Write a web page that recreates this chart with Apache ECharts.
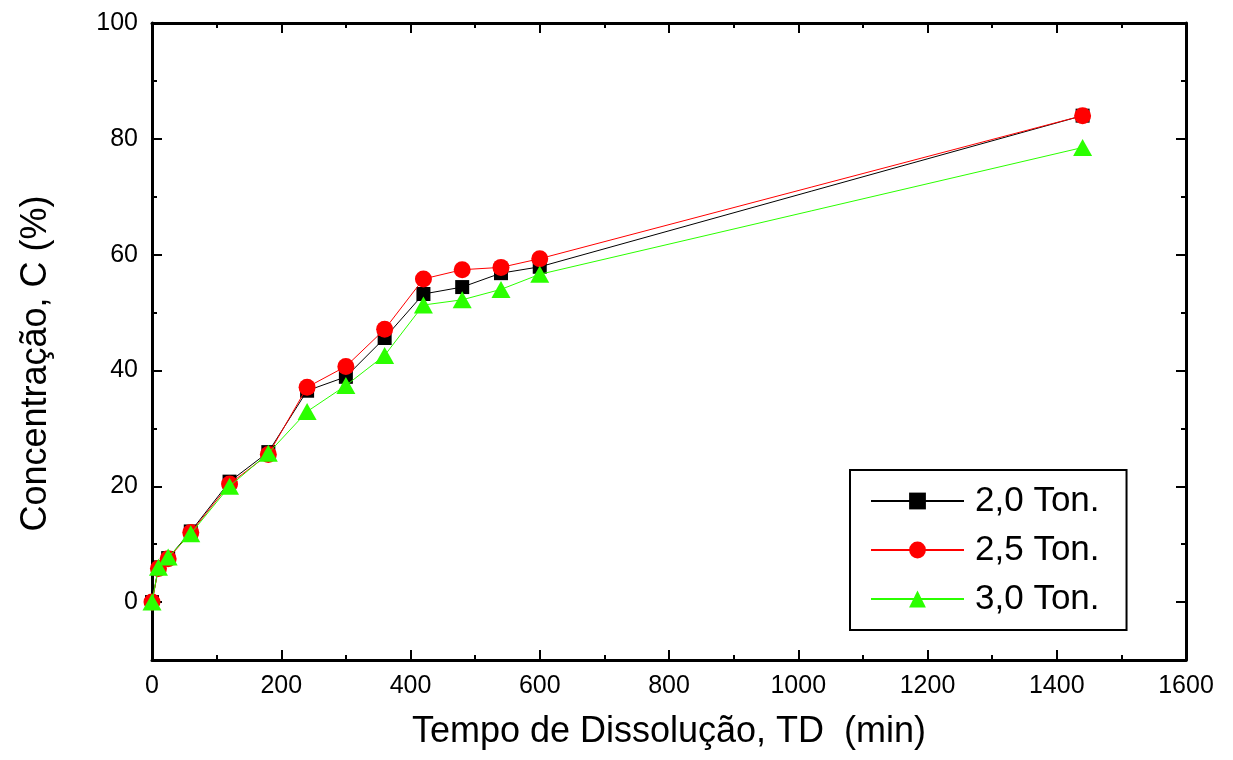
<!DOCTYPE html>
<html>
<head>
<meta charset="utf-8">
<script src="https://cdn.jsdelivr.net/npm/echarts@6/dist/echarts.min.js"></script>
<style>
html,body{margin:0;padding:0;background:#fff;}
#chart{width:1233px;height:760px;}
</style>
</head>
<body>
<div id="chart"></div>
<script>
// Data
var time = [0, 10, 25, 60, 120, 180, 240, 300, 360, 420, 480, 540, 600, 1440];
var c20 = [0, 6.0, 7.6, 12.2, 20.8, 25.9, 36.5, 38.9, 45.6, 53.2, 54.4, 56.8, 57.9, 84.0];
var c25 = [0, 5.8, 7.5, 12.0, 20.4, 25.5, 37.1, 40.7, 47.1, 55.8, 57.4, 57.8, 59.3, 84.0];
var c30 = [0, 6.0, 7.8, 11.8, 20.0, 25.7, 32.9, 37.4, 42.6, 51.3, 52.2, 54.0, 56.6, 78.5];
var seriesNames = ['2,0 Ton.', '2,5 Ton.', '3,0 Ton.'];
var yMajorTicks = [0, 20, 40, 60, 80, 100];

var FONT = 'Liberation Sans';

function pairs(xs, ys) {
  return xs.map(function (x, i) { return [x, ys[i]]; });
}

var axisLineStyle = { show: true, onZero: false, lineStyle: { color: '#000', width: 3 } };

function plain(v) { return String(v); }

function xAxisDef(pos, showLabels) {
  return {
    type: 'value', position: pos, min: 0, max: 1600, interval: 200,
    axisLine: axisLineStyle,
    axisTick: { show: true, inside: true, length: 10, lineStyle: { color: '#000', width: 2 } },
    minorTick: { show: true, splitNumber: 2, length: 5, lineStyle: { color: '#000', width: 2 } },
    splitLine: { show: false }, minorSplitLine: { show: false },
    axisLabel: { show: showLabels, formatter: plain, color: '#000', fontSize: 25, fontFamily: FONT, margin: 14 },
    name: showLabels ? 'Tempo de Dissolução, TD  (min)' : '',
    nameLocation: 'middle', nameGap: 54,
    nameTextStyle: { color: '#000', fontSize: 36, fontFamily: FONT }
  };
}

function yMinorAxis(pos) {
  return {
    type: 'value', position: pos, min: -10, max: 100, interval: 10,
    axisLine: axisLineStyle,
    axisTick: { show: true, inside: true, length: 5, lineStyle: { color: '#000', width: 2 } },
    axisLabel: { show: false },
    splitLine: { show: false }
  };
}

function yMajorAxis(pos, showLabels) {
  return {
    type: 'value', position: pos, min: -10, max: 100, interval: 10,
    axisLine: { show: false, onZero: false },
    axisTick: { show: true, inside: true, length: 10, customValues: yMajorTicks, lineStyle: { color: '#000', width: 2 } },
    axisLabel: { show: showLabels, customValues: yMajorTicks, formatter: plain, color: '#000', fontSize: 25, fontFamily: FONT, margin: 14 },
    splitLine: { show: false },
    name: showLabels ? 'Concentração, C (%)' : '',
    nameLocation: 'middle', nameGap: 98,
    nameTextStyle: { color: '#000', fontSize: 36, fontFamily: FONT, padding: [0, 44, 0, 0] }
  };
}

var chart = echarts.init(document.getElementById('chart'), null, { renderer: 'canvas' });
chart.setOption({
  animation: false,
  backgroundColor: '#fff',
  grid: { left: 152, right: 47, top: 23, bottom: 100, containLabel: false },
  xAxis: [xAxisDef('bottom', true), xAxisDef('top', false)],
  yAxis: [yMinorAxis('left'), yMajorAxis('left', true), yMinorAxis('right'), yMajorAxis('right', false)],
  legend: {
    orient: 'vertical', left: 850, top: 470,
    backgroundColor: '#fff',
    borderColor: '#000', borderWidth: 2, borderRadius: 0,
    padding: [10, 27, 10, 20],
    itemGap: 7, itemWidth: 93, itemHeight: 21,
    textStyle: { color: '#000', fontSize: 35, fontFamily: FONT, lineHeight: 42, padding: [0, 0, 0, 6] },
    data: seriesNames
  },
  series: [
    {
      name: seriesNames[0], type: 'line', xAxisIndex: 0, yAxisIndex: 0,
      data: pairs(time, c20), symbol: 'rect', symbolSize: 14,
      lineStyle: { color: '#000', width: 1 }, itemStyle: { color: '#000' }, z: 2
    },
    {
      name: seriesNames[1], type: 'line', xAxisIndex: 0, yAxisIndex: 0,
      data: pairs(time, c25), symbol: 'circle', symbolSize: 17,
      lineStyle: { color: '#ff0000', width: 1 }, itemStyle: { color: '#ff0000' }, z: 3
    },
    {
      name: seriesNames[2], type: 'line', xAxisIndex: 0, yAxisIndex: 0,
      data: pairs(time, c30), symbol: 'triangle', symbolSize: [19, 17],
      lineStyle: { color: '#2bff00', width: 1 }, itemStyle: { color: '#2bff00' }, z: 4
    }
  ]
});
</script>
</body>
</html>
